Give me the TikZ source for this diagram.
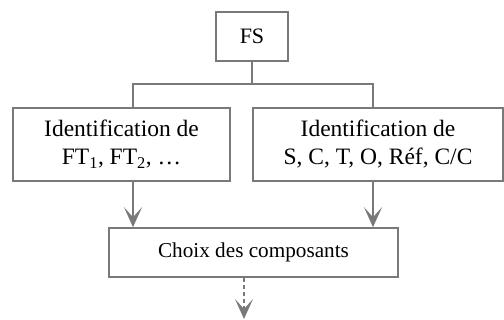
\documentclass[tikz,border=0pt]{standalone}
\usepackage{fontspec}
\setmainfont{Liberation Serif}
\usetikzlibrary{arrows.meta, positioning}

\begin{document}
\begin{tikzpicture}[
    x=1pt, y=-1pt,
    box/.style={rectangle, draw=gray!95!black, line width=1.6pt, align=center, inner sep=0pt, font=\fontsize{23.5}{28}\selectfont},
    link/.style={draw=gray!95!black, line width=1.5pt},
    arrow/.style={link, -{Stealth[length=20pt, width=18pt, inset=10pt]}},
    dasharrow/.style={arrow, dash pattern=on 4pt off 3pt}
  ]

  \useasboundingbox (0,0) rectangle (504,320);

  % Boxes
  \node[box, minimum width=72pt, minimum height=49pt, font=\fontsize{22}{26}\selectfont] (fs) at (252,36.5) {FS};
  \node[box, minimum width=217pt, minimum height=73pt] (identft) at (121.5,144.5) {Identification de\\FT\textsubscript{1}, FT\textsubscript{2}, …};
  \node[box, minimum width=250pt, minimum height=73pt] (identsc) at (378,144.5) {Identification de\\S, C, T, O, Réf, C/C};
  \node[box, minimum width=289pt, minimum height=49pt, font=\fontsize{21.2}{26}\selectfont] (choix) at (253.5,252.5) {Choix des composants};

  % Branch points
  \coordinate (split) at (252,84);
  \coordinate (ftin) at (133,108);
  \coordinate (scin) at (373,108);
  \coordinate (out) at (244,319);

  % Tree from FS
  \draw[link] (fs.south) -- (split);
  \draw[link] (ftin) |- (split) -| (scin);

  % Arrows to Choix
  \draw[arrow] (identft.south -| ftin) -- (choix.north -| ftin);
  \draw[arrow] (identsc.south -| scin) -- (choix.north -| scin);
  \draw[dasharrow] (choix.south -| out) -- (out);

\end{tikzpicture}
\end{document}
